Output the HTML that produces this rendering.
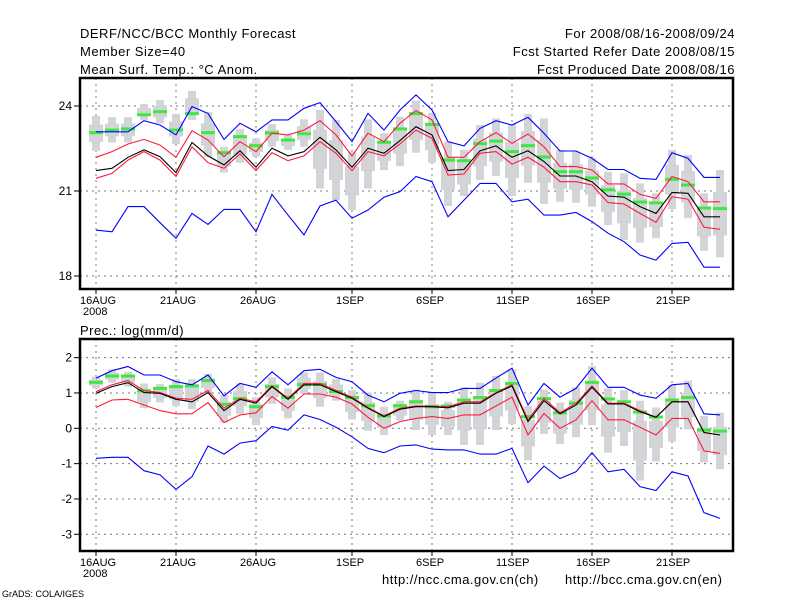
<!DOCTYPE html>
<html><head><meta charset="utf-8"><style>
body{margin:0;background:#fff}
svg text{font-family:"Liberation Sans","DejaVu Sans",sans-serif;}
</style></head><body>
<svg id="chart" width="800" height="600" xmlns="http://www.w3.org/2000/svg">
<rect width="800" height="600" fill="#fff"/>
<g id="hdr" font-size="13" fill="#000" letter-spacing="0.5">
<text x="80" y="38">DERF/NCC/BCC Monthly Forecast</text>
<text x="80" y="56">Member Size=40</text>
<text x="80" y="74">Mean Surf. Temp.: °C Anom.</text>
<text x="735" y="38" text-anchor="end">For 2008/08/16-2008/09/24</text>
<text x="735" y="56" text-anchor="end">Fcst Started Refer Date 2008/08/15</text>
<text x="735" y="74" text-anchor="end">Fcst Produced Date 2008/08/16</text>
<text x="80" y="335">Prec.: log(mm/d)</text>
<text x="382" y="584">http://ncc.cma.gov.cn(ch)</text>
<text x="565" y="584">http://bcc.cma.gov.cn(en)</text>
<text x="2" y="597" font-size="9" letter-spacing="0">GrADS: COLA/IGES</text>
</g>
<g id="top"></g><g id="bot"></g>
</svg>
<script>
const dayLabels=["16AUG","21AUG","26AUG","1SEP","6SEP","11SEP","16SEP","21SEP"];
const labelDays=[0,5,10,16,21,26,31,36];
const tTicks=[24,21,18];
const pTicks=[2,1,0,-1,-2,-3];
const tBlueHi=[23.09,23.09,23.09,23.48,23.33,22.98,23.98,23.74,22.82,23.39,23.09,23.51,23.51,23.92,24.12,23.45,22.74,23.74,23.15,23.86,24.39,23.86,22.74,22.59,23.21,23.48,23.33,23.6,23.04,22.41,22.41,22.15,21.76,21.76,21.45,21.41,22.35,22.15,21.48,21.48];
const tMean=[21.72,21.8,22.19,22.45,22.21,21.65,22.71,22.24,21.92,22.42,21.84,22.51,22.24,22.39,22.89,22.45,21.84,22.51,22.33,22.78,23.27,22.98,21.72,21.76,22.42,22.59,22.19,22.42,22.04,21.53,21.53,21.33,20.82,20.78,20.45,20.21,20.95,20.92,20.09,20.09];
const tRedHi=[22.19,22.39,22.66,22.82,22.62,22.19,23.13,22.8,22.21,22.74,22.39,23.04,22.98,23.15,23.48,22.98,22.24,23.04,22.74,23.39,23.84,23.51,22.19,22.19,22.74,23.06,22.68,23.01,22.56,21.86,21.86,21.74,21.25,21.25,20.88,20.74,21.51,21.33,20.62,20.62];
const tRedLo=[21.45,21.62,22.09,22.39,22.09,21.51,22.56,22.0,21.8,22.31,21.72,22.35,22.07,22.24,22.74,22.33,21.72,22.39,22.24,22.66,23.15,22.86,21.56,21.6,22.33,22.39,21.95,22.19,21.84,21.33,21.33,21.21,20.59,20.54,20.21,19.89,20.8,20.71,19.72,19.65];
const tBlueLo=[19.62,19.56,20.45,20.45,19.88,19.33,20.21,19.82,20.35,20.35,19.56,20.88,20.15,19.45,20.47,20.68,20.04,20.33,20.78,20.98,21.51,21.33,20.09,20.68,21.27,21.27,20.62,20.71,20.15,20.15,20.24,19.92,19.51,19.21,18.74,18.56,19.15,19.19,18.31,18.31];
const tBarMax=[23.65,23.6,23.6,24.07,24.21,23.72,24.53,23.78,22.56,23.18,22.86,23.36,22.98,23.53,23.86,23.51,22.39,23.53,23.04,23.62,24.19,23.76,22.74,22.45,23.33,23.56,23.36,23.72,23.56,22.45,22.39,22.15,21.68,21.62,21.27,20.92,22.45,22.27,20.92,21.74];
const tBarMin=[22.42,22.71,22.71,23.51,23.39,22.66,23.51,22.21,21.65,22.0,22.21,22.56,22.45,22.56,21.09,20.68,20.33,21.09,21.74,21.88,22.35,22.0,20.47,20.82,21.39,21.53,20.82,21.29,20.54,20.62,20.59,20.45,19.8,19.27,19.18,19.33,20.35,20.04,18.89,18.66];
const tGreen=[23.06,23.15,23.19,23.69,23.8,23.15,23.73,23.06,22.35,22.92,22.6,23.05,22.8,23.02,null,null,null,null,22.72,23.19,23.73,23.35,22.09,22.07,22.67,22.76,22.39,22.6,22.2,21.68,21.68,21.46,21.04,20.89,20.61,20.58,21.41,21.21,20.4,20.38];
const pBlueHi=[1.42,1.63,1.75,1.51,1.51,1.32,1.23,1.51,0.92,1.27,1.16,1.6,1.23,1.63,1.67,1.44,1.32,0.94,0.75,0.99,1.07,1.01,1.01,1.13,1.13,1.42,1.7,0.66,1.27,0.88,1.13,1.7,1.16,1.16,0.94,0.85,1.23,1.27,0.41,0.38];
const pMean=[0.99,1.18,1.29,1.01,0.99,0.82,0.75,1.01,0.5,0.82,0.71,1.18,0.82,1.23,1.23,1.04,0.85,0.57,0.33,0.54,0.61,0.61,0.58,0.71,0.71,0.99,1.2,0.19,0.78,0.41,0.66,1.16,0.69,0.69,0.47,0.31,0.75,0.75,-0.12,-0.19];
const pRedHi=[1.04,1.23,1.35,1.07,1.01,0.85,0.82,1.07,0.57,0.85,0.75,1.2,0.85,1.27,1.27,1.07,0.88,0.59,0.35,0.57,0.63,0.63,0.61,0.75,0.75,1.01,1.23,0.24,0.85,0.44,0.71,1.2,0.71,0.71,0.5,0.31,0.75,0.75,-0.12,-0.19];
const pRedLo=[0.59,0.8,0.82,0.66,0.5,0.41,0.41,0.73,0.16,0.38,0.44,0.9,0.57,0.97,0.97,0.88,0.69,0.31,0,0.19,0.28,0.33,0.28,0.38,0.38,0.63,0.88,-0.19,0.42,0,0.24,0.78,0.24,0.24,0.03,-0.19,0.28,0.28,-0.64,-0.71];
const pBlueLo=[-0.85,-0.82,-0.82,-1.2,-1.32,-1.73,-1.37,-0.5,-0.73,-0.42,-0.35,0.05,-0.05,0.38,0.25,0.03,-0.24,-0.57,-0.69,-0.5,-0.47,-0.59,-0.61,-0.61,-0.73,-0.73,-0.57,-1.54,-1.07,-1.42,-1.23,-0.69,-1.23,-1.16,-1.65,-1.76,-1.23,-1.35,-2.39,-2.55];
const pBarMax=[1.46,1.67,1.6,1.27,1.25,1.39,1.39,1.54,0.94,1.27,0.88,1.44,1.13,1.58,1.58,1.39,1.08,1.01,0.61,0.78,1.1,0.97,0.75,1.16,1.29,1.48,1.67,0.63,1.1,0.73,1.16,1.76,1.13,1.08,0.78,0.59,1.23,1.35,0.35,0.44];
const pBarMin=[1.13,1.29,1.18,0.57,0.73,0.63,0.54,1.01,0.16,0.41,0.09,0.69,0.28,0.97,0.61,0.78,0.25,-0.07,-0.19,0.22,-0.05,-0.19,-0.19,-0.47,-0.47,-0.05,0.12,-0.9,-0.16,-0.44,-0.25,0.09,-0.69,-0.5,-1.48,-0.94,-0.38,-0.03,-0.97,-1.16];
const pGreen=[1.3,1.48,1.48,1.06,1.13,1.18,1.2,1.35,0.68,0.84,0.61,1.18,0.88,1.24,1.24,1.04,0.87,0.64,0.35,0.64,0.75,0.61,0.63,0.8,0.87,1.07,1.27,0.33,0.84,0.44,0.71,1.3,0.83,0.75,0.46,0.32,0.8,0.87,-0.05,-0.08];

const NS="http://www.w3.org/2000/svg";
function mk(parent,tag,attrs){const e=document.createElementNS(NS,tag);for(const k in attrs)e.setAttribute(k,attrs[k]);parent.appendChild(e);return e;}
const xOf=d=>96+16*d;
const L=80,R=733;

function panel(g,top,bot,yOf,ticks,S,showYear){
  ticks.forEach(t=>{const y=yOf(t);
    const gl=mk(g,'line',{x1:L,x2:R,y1:y,y2:y,stroke:'#777','stroke-dasharray':'2,4'});
    
    
    mk(g,'line',{x1:L-6,x2:L,y1:y,y2:y,stroke:'#000'});
    const tx=mk(g,'text',{x:L-8,y:y+4,'text-anchor':'end','font-size':12});
    tx.textContent=t;
    
    
  });
  labelDays.forEach((d,i)=>{const x=xOf(d);
    const gl=mk(g,'line',{x1:x,x2:x,y1:top,y2:bot,stroke:'#777','stroke-dasharray':'2,4'});
    
    
    mk(g,'line',{x1:x,x2:x,y1:bot,y2:bot+5,stroke:'#000'});
    const tx=mk(g,'text',{x:x-16,y:bot+15,'font-size':11});
    tx.textContent=dayLabels[i];
    
    
  });
  if(showYear){const ty=mk(g,'text',{x:83,y:bot+26,'font-size':11});ty.textContent='2008';
    
    }
  S.bmax.forEach((v,d)=>{const x=xOf(d);const y1=yOf(v),y2=yOf(S.bmin[d]);
    const b=mk(g,'rect',{x:x-4,y:y1,width:8,height:Math.max(1,y2-y1),fill:'#d3d4d8'});
    
    
    const ym=y1+(y2-y1)*0.25,yh=(y2-y1)*0.5;
    mk(g,'rect',{x:x-7,y:ym,width:14,height:Math.max(1,yh),fill:'#d3d4d8'});
  });
  S.green.forEach((v,d)=>{if(v===null)return;const y=yOf(v);
    const r=mk(g,'rect',{x:xOf(d)-7,y:y-1.5,width:14,height:3,fill:'#3ee83e'});
    
    
  });
  const line=(arr,col,name)=>{const p=mk(g,'polyline',{points:arr.map((v,d)=>xOf(d)+','+yOf(v).toFixed(1)).join(' '),fill:'none',stroke:col,'stroke-width':1.1});
    
    };
  line(S.blo,'#0000ff','lower-bound-line');
  line(S.bhi,'#0000ff','upper-bound-line');
  line(S.rlo,'#ff1a3c','lower-sd-line');
  line(S.rhi,'#ff1a3c','upper-sd-line');
  line(S.mean,'#000','ensemble-mean-line');
  const f=mk(g,'rect',{x:L,y:top,width:R-L,height:bot-top,fill:'none',stroke:'#000','stroke-width':2.5});
  
  
}
const gt=document.getElementById('top');


panel(gt,78,289,v=>106+(24-v)*85/3,tTicks,{bhi:tBlueHi,mean:tMean,rhi:tRedHi,rlo:tRedLo,blo:tBlueLo,bmax:tBarMax,bmin:tBarMin,green:tGreen},true);
const gb=document.getElementById('bot');


panel(gb,339,551,v=>428.3-v*35.33,pTicks,{bhi:pBlueHi,mean:pMean,rhi:pRedHi,rlo:pRedLo,blo:pBlueLo,bmax:pBarMax,bmin:pBarMin,green:pGreen},true);
</script>
</body></html>
